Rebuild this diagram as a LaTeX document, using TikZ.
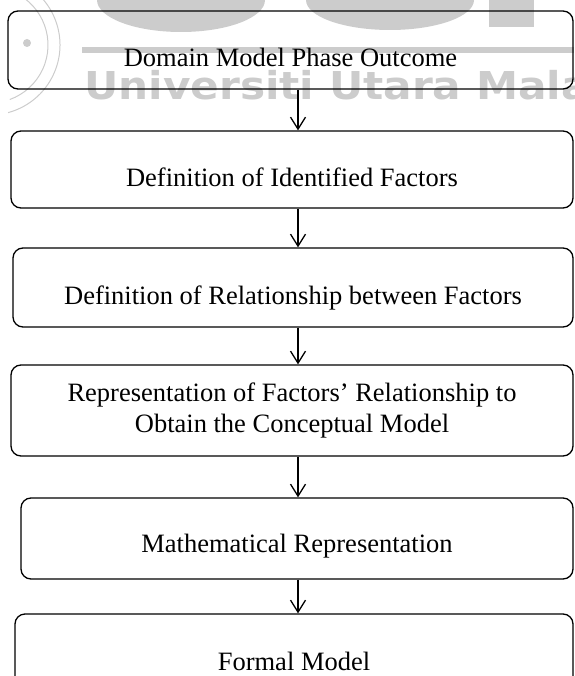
\documentclass[tikz,border=0pt]{standalone}
\usepackage{fontspec}
\setmainfont{Liberation Serif}
\newfontfamily\wmfont{DejaVu Sans}
\usetikzlibrary{arrows.meta}

\tikzset{
  stage/.style={draw, line width=1.3pt, rounded corners=10pt, inner sep=0pt, align=center,
    font=\fontsize{26.5}{31}\selectfont},
  lowtext/.style={text height=40pt, text depth=#1},
  lowtext/.default=6pt,
  flow/.style={line width=1.3pt, -{Straight Barb[length=12pt,width=15pt]}},
  watermark/.style={black!20}
}

\begin{document}
\begin{tikzpicture}[x=1pt,y=-1pt]
  \useasboundingbox (0,0) rectangle (574,676);

  % Watermark (draw FIRST)
  \fill[watermark] (97,0) arc[start angle=180, end angle=0, x radius=84, y radius=32] -- cycle;
  \fill[watermark] (306,0) arc[start angle=180, end angle=0, x radius=84, y radius=30] -- cycle;
  \fill[watermark] (489,0) rectangle (534,27);
  \fill[watermark] (82,47) rectangle (574,53);
  \draw[watermark, line width=1pt] (-10,45) ++(-70:70) arc[start angle=-70, end angle=75, radius=70];
  \draw[watermark, line width=1pt] (-10,45) ++(-65:58) arc[start angle=-65, end angle=70, radius=58];
  \fill[watermark] (27,43) circle (4);
  \node[watermark, anchor=base west, inner sep=0pt, xscale=1.1,
        font=\wmfont\bfseries\fontsize{38.4}{40}\selectfont] (wm) at (84,100) {Universiti Utara Mala};

  % Stages
  \node[stage, lowtext, minimum width=565pt, minimum height=78pt] (outcome) at (290.5,50) {Domain Model Phase Outcome};
  \node[stage, lowtext, minimum width=562pt, minimum height=77pt] (factors) at (292,169.5) {Definition of Identified Factors};
  \node[stage, lowtext, minimum width=560pt, minimum height=79pt] (relation) at (293,287.5) {Definition of Relationship between Factors};
  \node[stage, minimum width=562pt, minimum height=91pt] (concept) at (292,410.5) {Representation of Factors' Relationship to\\Obtain the Conceptual Model};
  \node[stage, lowtext=13pt, minimum width=552pt, minimum height=81pt] (maths) at (297,538.5) {Mathematical Representation};
  \node[stage, lowtext=14pt, minimum width=558pt, minimum height=86pt] (formal) at (294,657) {Formal Model};

  % Arrows
  \coordinate (spine) at (298,0);
  \foreach \a/\b in {outcome/factors, factors/relation, relation/concept, concept/maths, maths/formal}
    \draw[flow] (\a.south -| spine) -- (\b.north -| spine);

\end{tikzpicture}
\end{document}
